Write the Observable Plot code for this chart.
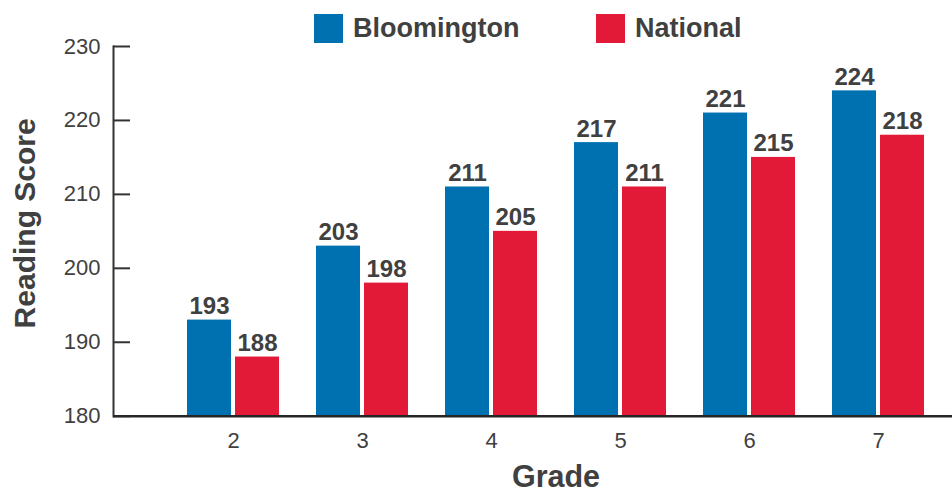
<!DOCTYPE html>
<html>
<head>
<meta charset="utf-8">
<script src="https://cdn.jsdelivr.net/npm/d3@7"></script>
<script src="https://cdn.jsdelivr.net/npm/@observablehq/plot@0.6"></script>
<style>
  body { margin: 0; background: #fff; }
  #chart { position: relative; width: 952px; height: 493px; font-family: "Liberation Sans", Arial, Helvetica, sans-serif; }
  #chart svg { position: absolute; left: 0; top: 0; }
  .legend { position: absolute; top: 14px; left: 314px; display: flex; z-index: 1; }
  .legend-item { display: flex; align-items: center; height: 29px; }
  .legend-item:first-child { width: 282px; }
  .swatch { width: 29px; height: 29px; margin-right: 10px; flex: none; }
  .legend-label { font-size: 27px; font-weight: bold; color: #404040; line-height: 29px; }
</style>
</head>
<body>
<div id="chart"></div>
<script>
// Reading scores by grade, Bloomington vs. national norms
const grades = ["2", "3", "4", "5", "6", "7"];
const series = ["Bloomington", "National"];
const bloomington = [193, 203, 211, 217, 221, 224];
const national = [188, 198, 205, 211, 215, 218];
const yTicks = [180, 190, 200, 210, 220, 230];
const seriesColors = ["#0071B0", "#E31A37"];
const xTitle = "Grade";
const yTitle = "Reading Score";

const rows = grades.flatMap((g, i) => [
  {grade: g, series: series[0], value: bloomington[i]},
  {grade: g, series: series[1], value: national[i]}
]);
const yMin = yTicks[0];
const yMax = yTicks[yTicks.length - 1];
const ink = "#404040";
const fontFamily = '"Liberation Sans", Arial, Helvetica, sans-serif';

const bySeries = (s) => rows.filter((d) => d.series === s);

const valueLabel = (s, dx) =>
  Plot.text(bySeries(s), {
    x: "grade", y: "value", text: (d) => String(d.value),
    dx, dy: -6, lineAnchor: "bottom",
    fontSize: 24, fontWeight: "bold", fill: ink
  });

const chart = Plot.plot({
  width: 952,
  height: 493,
  marginLeft: 113,
  marginRight: 0,
  marginTop: 46,
  marginBottom: 77.3,
  style: {fontFamily, background: "white", color: ink, overflow: "visible"},
  x: {type: "band", domain: grades, paddingInner: 0.2874, paddingOuter: 0.393, align: 0.729, axis: null, label: null},
  y: {domain: [yMin, yMax], axis: null, label: null},
  color: {domain: series, range: seriesColors},
  marks: [
    Plot.barY(bySeries(series[0]), {x: "grade", y1: yMin, y2: "value", fill: "series", insetRight: 48}),
    Plot.barY(bySeries(series[1]), {x: "grade", y1: yMin, y2: "value", fill: "series", insetLeft: 48}),
    valueLabel(series[0], -24),
    valueLabel(series[1], 24),
    // inward-pointing tick marks
    Plot.axisY({ticks: yTicks, tickSize: 17, dx: 17, fill: "none", stroke: "#333", strokeWidth: 2, label: null}),
    // tick labels
    Plot.axisY({ticks: yTicks, tickSize: 0, tickPadding: 13, fontSize: 22, fill: ink, label: null}),
    Plot.axisX({tickSize: 0, tickPadding: 16, fontSize: 22, fill: ink, label: null}),
    Plot.frame({anchor: "left", stroke: "#333", strokeWidth: 2}),
    Plot.ruleY([yMin], {stroke: "#262626", strokeWidth: 2.5}),
    Plot.text([yTitle], {
      text: (d) => d, frameAnchor: "left", textAnchor: "middle", rotate: -90, dx: -79, dy: -8,
      lineAnchor: "bottom", fontSize: 30, fontWeight: "bold", fill: ink
    }),
    Plot.text([xTitle], {
      text: (d) => d, frameAnchor: "bottom", textAnchor: "middle", dx: 23, dy: 70.5,
      lineAnchor: "bottom", fontSize: 30.5, fontWeight: "bold", fill: ink
    })
  ]
});

const container = d3.select("#chart");
container.node().appendChild(chart);

// swatch legend across the top
const legend = container.append("div").attr("class", "legend");
const item = legend.selectAll(".legend-item")
  .data(series)
  .join("div")
  .attr("class", "legend-item");
item.append("div")
  .attr("class", "swatch")
  .style("background", (d, i) => seriesColors[i]);
item.append("span")
  .attr("class", "legend-label")
  .text((d) => d);
</script>
</body>
</html>
